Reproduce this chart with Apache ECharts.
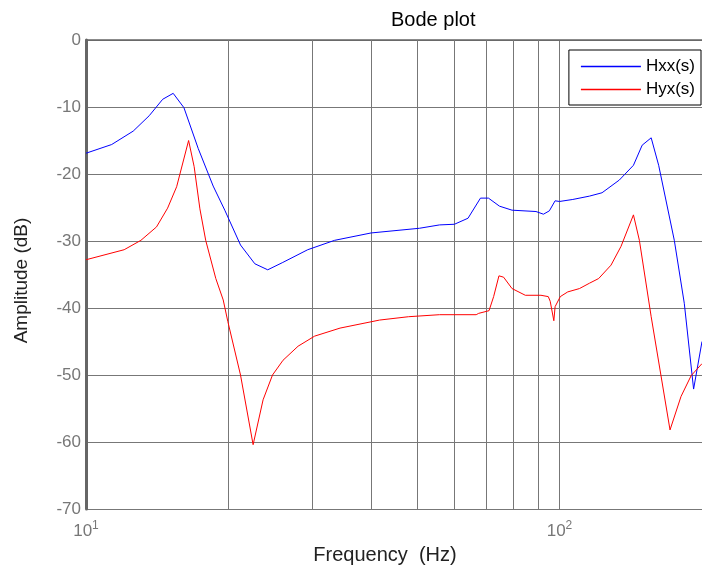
<!DOCTYPE html>
<html>
<head>
<meta charset="utf-8">
<script src="https://cdn.jsdelivr.net/npm/echarts@6/dist/echarts.min.js"></script>
<style>
  html, body { margin: 0; padding: 0; background: #fff; }
  #bodeChart { width: 702px; height: 572px; }
</style>
</head>
<body>
<div id="bodeChart"></div>
<script>
// frequencies (Hz) and amplitudes (dB)
const hxxFreq = [10, 11.33, 12.58, 13.6, 14.52, 15.28, 16.1, 17.26, 18.56, 19.64, 21.2, 22.73, 24.2, 26.04, 29.4, 33.5, 40, 50.6, 55.8, 60, 64.1, 68.1, 70.8, 74.7, 79.4, 89.2, 92.5, 95.2, 97.9, 100, 106.7, 115.7, 123, 133.8, 143.3, 149.5, 156.2, 162, 174.8, 183.5, 192, 200];
const hxxDb = [-16.9, -15.6, -13.6, -11.3, -8.85, -7.96, -10.1, -16.2, -21.8, -25.4, -30.6, -33.4, -34.3, -33.2, -31.3, -29.9, -28.8, -28.1, -27.6, -27.5, -26.6, -23.6, -23.6, -24.8, -25.4, -25.6, -26.0, -25.5, -24.0, -24.1, -23.8, -23.3, -22.8, -20.9, -18.7, -15.7, -14.6, -18.7, -29.9, -39.3, -52.1, -45.0];

const hyxFreq = [10, 12.04, 13.06, 14.09, 14.87, 15.54, 16.47, 16.92, 17.4, 17.9, 18.8, 19.49, 19.93, 21.2, 22.54, 23.66, 24.77, 26.07, 28.05, 30.4, 34.4, 41.7, 48, 55.8, 66.7, 67.5, 71, 72.6, 74.5, 76.2, 79.4, 84.7, 91.4, 94.7, 95.6, 97.3, 97.9, 100.4, 104.1, 110.2, 115.7, 121, 128.5, 134.9, 143.3, 147.5, 156.2, 171.2, 180.6, 189.7, 200];
const hyxDb = [-32.8, -31.3, -29.9, -27.9, -25.1, -21.9, -15.0, -18.9, -25.2, -29.9, -35.6, -38.8, -42.0, -50.0, -60.4, -53.7, -50.0, -47.8, -45.7, -44.2, -43.0, -41.8, -41.3, -41.0, -41.0, -40.8, -40.4, -38.3, -35.2, -35.4, -37.1, -38.1, -38.1, -38.3, -39.0, -41.9, -39.8, -38.3, -37.6, -37.1, -36.3, -35.6, -33.6, -30.8, -26.1, -29.9, -41.3, -58.2, -53.2, -50.1, -48.3];

const minorGridFreq = [20, 30, 40, 50, 60, 70, 80, 90];

const gridColor = '#777';
const font = 'Liberation Sans';

const chart = echarts.init(document.getElementById('bodeChart'));
chart.setOption({
    animation: false,
    backgroundColor: '#fff',
    title: {
        text: 'Bode plot',
        left: 386,
        top: 5,
        textStyle: { fontFamily: font, fontSize: 20, fontWeight: 'normal', color: '#000' },
    },
    legend: {
        orient: 'vertical',
        right: 1,
        top: 50,
        icon: 'rect',
        itemWidth: 60,
        itemHeight: 1.5,
        itemGap: 6,
        padding: [8, 6, 7, 12],
        borderColor: '#000',
        borderWidth: 1,
        borderRadius: 0,
        backgroundColor: '#fff',
        textStyle: { fontFamily: font, fontSize: 17, color: '#000' },
        data: [
            { name: 'Hxx(s)', itemStyle: { color: '#0000ff' } },
            { name: 'Hyx(s)', itemStyle: { color: '#ff0000' } },
        ],
    },
    grid: { left: 86, right: 0, top: 40, bottom: 63, containLabel: false, outerBoundsMode: 'none' },
    xAxis: {
        type: 'log',
        logBase: 10,
        min: 10,
        max: 200,
        name: 'Frequency  (Hz)',
        nameLocation: 'middle',
        nameGap: 36,
        nameTextStyle: { fontFamily: font, fontSize: 20, color: '#222', padding: [0, 18, 0, 0] },
        axisLine: { lineStyle: { color: '#666', width: 1.5 } },
        axisTick: { show: false },
        axisLabel: {
            margin: 11,
            showMaxLabel: false,
            formatter: (v) => '{b|10}{s|' + Math.round(Math.log10(v)) + '}',
            rich: {
                b: { fontFamily: font, fontSize: 17, color: '#777' },
                s: { fontFamily: font, fontSize: 12, color: '#777', verticalAlign: 'top', padding: [0, 0, 11, 0] },
            },
        },
        splitLine: { show: true, lineStyle: { color: gridColor, width: 1 } },
    },
    yAxis: {
        type: 'value',
        min: -70,
        max: 0,
        interval: 10,
        name: 'Amplitude (dB)',
        nameLocation: 'middle',
        nameGap: 55,
        nameTextStyle: { fontFamily: font, fontSize: 19, color: '#222', padding: [0, 12, 0, 0] },
        axisLine: { show: true, lineStyle: { color: '#666', width: 3 } },
        axisTick: { show: false },
        axisLabel: { margin: 5, fontFamily: font, fontSize: 17, color: '#777' },
        splitLine: { show: true, lineStyle: { color: gridColor, width: 1 } },
    },
    series: [
        {
            name: 'Hxx(s)',
            type: 'line',
            symbol: 'none',
            color: '#0000ff',
            lineStyle: { color: '#0000ff', width: 1 },
            data: hxxFreq.map((f, i) => [f, hxxDb[i]]),
            z: 3,
            markLine: {
                silent: true,
                symbol: 'none',
                label: { show: false },
                lineStyle: { color: gridColor, width: 1, type: 'solid' },
                data: minorGridFreq.map((f) => ({ xAxis: f })),
                z: 1,
            },
        },
        {
            name: 'Hyx(s)',
            type: 'line',
            symbol: 'none',
            color: '#ff0000',
            lineStyle: { color: '#ff0000', width: 1 },
            data: hyxFreq.map((f, i) => [f, hyxDb[i]]),
            z: 3,
        },
    ],
});
</script>
</body>
</html>
